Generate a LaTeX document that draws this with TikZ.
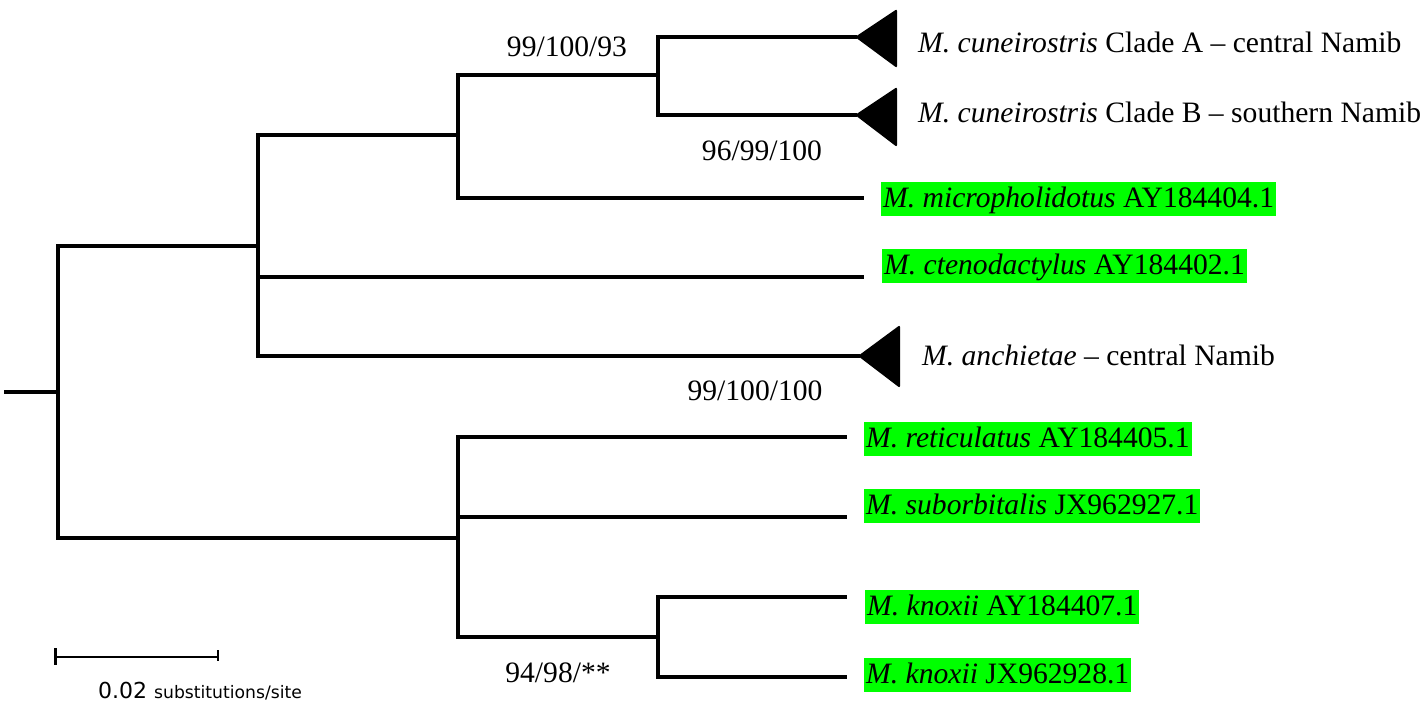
\documentclass[tikz,border=0pt]{standalone}
\usepackage{fontspec}
\setmainfont{Liberation Serif}
\newfontfamily\scalefont{DejaVu Sans}
\definecolor{hl}{RGB}{0,255,0}
\begin{document}
\begin{tikzpicture}[x=1pt,y=-1pt,
  br/.style={line width=3.6pt, line cap=rect},
  txt/.style={font=\fontsize{29.6}{34}\selectfont, inner sep=0pt, anchor=base west},
  sup/.style={font=\fontsize{29.6}{34}\selectfont, inner sep=0pt, anchor=base},
  gleaf/.style={font=\fontsize{29.6}{34}\selectfont, fill=hl, anchor=north west, inner xsep=2pt, inner ysep=0pt, minimum height=34pt, text height=22pt, text depth=6pt},
  clade/.style={fill=black, rounded corners=2pt}]
\useasboundingbox (0,0) rectangle (1423,706);
% internal nodes
\coordinate (r0) at (6,392);
\coordinate (r) at (58,392);
\coordinate (u) at (258,246);
\coordinate (a) at (458,135);
\coordinate (b) at (658,75);
\coordinate (l) at (458,538);
\coordinate (k) at (658,637);
% leaves
\coordinate (cA) at (855,37);
\coordinate (cB) at (855,115);
\coordinate (mic) at (862,198);
\coordinate (cte) at (862,277);
\coordinate (anc) at (858,356);
\coordinate (ret) at (845,437);
\coordinate (sub) at (845,517);
\coordinate (kn1) at (845,597);
\coordinate (kn2) at (845,677);
% branches
\draw[br] (r0) -- (r);
\draw[br] (r) |- (u);
\draw[br] (r) |- (l);
\draw[br] (u) |- (a);
\draw[br] (u) |- (cte);
\draw[br] (u) |- (anc);
\draw[br] (a) |- (b);
\draw[br] (a) |- (mic);
\draw[br] (b) |- (cA);
\draw[br] (b) |- (cB);
\draw[br] (l) |- (ret);
\draw[br] (l) |- (sub);
\draw[br] (l) |- (k);
\draw[br] (k) |- (kn1);
\draw[br] (k) |- (kn2);
% collapsed clades
\fill[clade] (cA) -- (897,9) -- (897,68) -- cycle;
\fill[clade] (cB) -- (897,87) -- (897,147) -- cycle;
\fill[clade] (anc) -- (900,325) -- (900,388) -- cycle;
% labels
\node[txt] (tA) at (918,53) {\textit{M. cuneirostris} Clade A – central Namib};
\node[txt] (tB) at (918,122) {\textit{M. cuneirostris} Clade B – southern Namib};
\node[txt] (tanc) at (922,365) {\textit{M. anchietae} – central Namib};
\node[gleaf] (tmic) at (881,182) {\textit{M. micropholidotus} AY184404.1};
\node[gleaf] (tcte) at (882,249) {\textit{M. ctenodactylus} AY184402.1};
\node[gleaf] (tret) at (864,422) {\textit{M. reticulatus} AY184405.1};
\node[gleaf] (tsub) at (864,489) {\textit{M. suborbitalis} JX962927.1};
\node[gleaf] (tkn1) at (865,590) {\textit{M. knoxii} AY184407.1};
\node[gleaf] (tkn2) at (864,658) {\textit{M. knoxii} JX962928.1};
% support values
\node[sup] (s1) at (567,57) {99/100/93};
\node[sup] (s2) at (762,160) {96/99/100};
\node[sup] (s3) at (755,400) {99/100/100};
\node[sup] (s4) at (558,682) {94/98/**};
% scale bar
\coordinate (sb1) at (55,657);
\coordinate (sb2) at (218,657);
\draw[line width=2.5pt] (sb1) -- (sb2);
\draw[line width=3pt] (55,648) -- (55,665);
\draw[line width=2.5pt] (218,650) -- (218,661);
\node[inner sep=0pt, anchor=base west] (sbl) at (98,698) {\scalefont\fontsize{22}{24}\selectfont 0.02\hspace{7pt}\fontsize{17.2}{19}\selectfont substitutions/site};
\end{tikzpicture}
\end{document}
